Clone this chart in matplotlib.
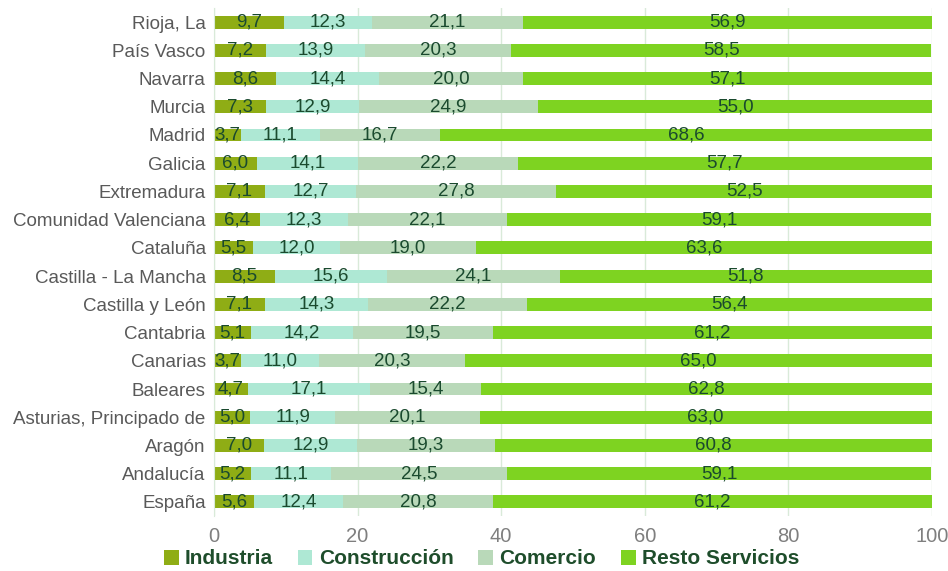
import matplotlib
matplotlib.use("Agg")
import matplotlib.pyplot as plt
import numpy as np

categories = ["España", "Andalucía", "Aragón", "Asturias, Principado de", "Baleares",
              "Canarias", "Cantabria", "Castilla y León", "Castilla - La Mancha",
              "Cataluña", "Comunidad Valenciana", "Extremadura", "Galicia", "Madrid",
              "Murcia", "Navarra", "País Vasco", "Rioja, La"]
industria = [5.6, 5.2, 7.0, 5.0, 4.7, 3.7, 5.1, 7.1, 8.5, 5.5, 6.4, 7.1, 6.0, 3.7, 7.3, 8.6, 7.2, 9.7]
construccion = [12.4, 11.1, 12.9, 11.9, 17.1, 11.0, 14.2, 14.3, 15.6, 12.0, 12.3, 12.7, 14.1, 11.1, 12.9, 14.4, 13.9, 12.3]
comercio = [20.8, 24.5, 19.3, 20.1, 15.4, 20.3, 19.5, 22.2, 24.1, 19.0, 22.1, 27.8, 22.2, 16.7, 24.9, 20.0, 20.3, 21.1]
resto = [61.2, 59.1, 60.8, 63.0, 62.8, 65.0, 61.2, 56.4, 51.8, 63.6, 59.1, 52.5, 57.7, 68.6, 55.0, 57.1, 58.5, 56.9]

series_names = ["Industria", "Construcción", "Comercio", "Resto Servicios"]
series = [industria, construccion, comercio, resto]
colors = ["#8fad15", "#aee8d4", "#b9d9b9", "#7ed321"]

plt.rcParams['font.family'] = ['Liberation Sans', 'DejaVu Sans']

fig = plt.figure(figsize=(9.48, 5.71), dpi=100)
ax = fig.add_axes([0.2257, 0.0963, 0.7573, 0.8897])

y = np.arange(len(categories))
left = np.zeros(len(categories))
for name, vals, c in zip(series_names, series, colors):
    vals = np.array(vals)
    ax.barh(y, vals, left=left, height=0.46, color=c, label=name, zorder=2)
    for yi, l, v in zip(y, left, vals):
        ax.text(l + v / 2, yi, f"{v:.1f}".replace('.', ','), ha='center', va='center',
                fontsize=13.5, color='#1a4a2e', zorder=3)
    left += vals

ax.set_xlim(0, 100)
ax.set_ylim(-0.5, len(categories) - 0.5)
ax.set_yticks(y)
ax.set_yticklabels(categories, fontsize=13.5, color='#595959')
ax.set_xticks([0, 20, 40, 60, 80, 100])
ax.tick_params(axis='x', labelsize=14.5, colors='#7f7f7f', length=0, pad=8)
ax.tick_params(axis='y', length=0, pad=6)
ax.grid(axis='x', color='#d9ead9', linewidth=1, zorder=0)
for s in ['top', 'right', 'bottom']:
    ax.spines[s].set_visible(False)
ax.spines['left'].set_color('#d9ead9')

leg = fig.legend(loc='center', bbox_to_anchor=(0.508, 12 / 571), ncol=4, frameon=False,
                 borderpad=0.0, handlelength=0.7, handleheight=0.7, handletextpad=0.3,
                 columnspacing=1.2,
                 prop={'family': ['Liberation Sans Narrow', 'Liberation Sans'], 'weight': 'bold', 'size': 15})
for t in leg.get_texts():
    t.set_color('#1e4d2b')

fig.savefig("out.png", dpi=100)
